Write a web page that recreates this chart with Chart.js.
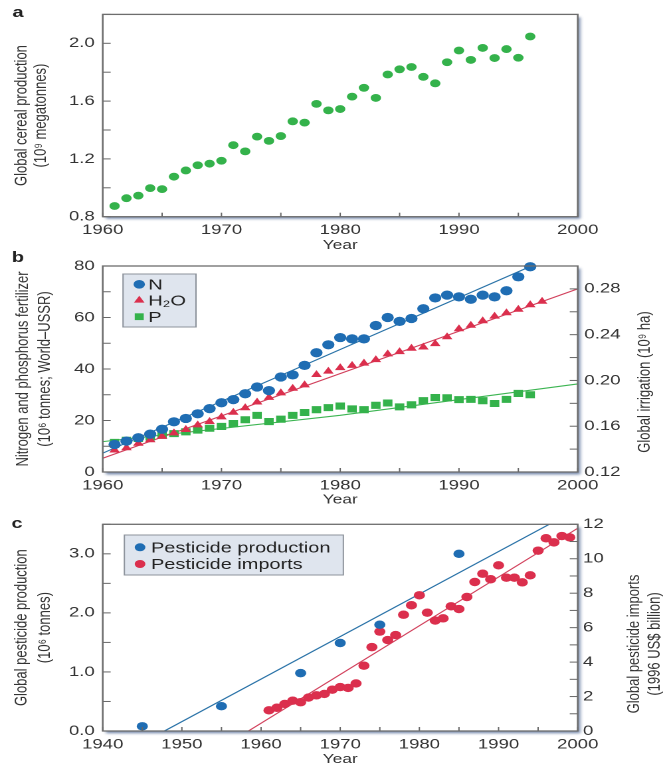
<!DOCTYPE html>
<html>
<head>
<meta charset="utf-8">
<script src="https://cdn.jsdelivr.net/npm/chart.js@4/dist/chart.umd.min.js"></script>
<style>
body{margin:0;background:#fff;width:667px;height:766px;position:relative;overflow:hidden}
canvas{position:absolute;left:0}
</style>
</head>
<body>
<canvas id="chartA" width="502" height="256" style="top:0;width:667px;height:256px"></canvas>
<canvas id="chartB" width="502" height="260" style="top:250px;width:667px;height:260px"></canvas>
<canvas id="chartC" width="502" height="261" style="top:505px;width:667px;height:261px"></canvas>
<script>
// panel a - cereal production
const cerealYears=[1961,1962,1963,1964,1965,1966,1967,1968,1969,1970,1971,1972,1973,1974,1975,1976,1977,1978,1979,1980,1981,1982,1983,1984,1985,1986,1987,1988,1989,1990,1991,1992,1993,1994,1995,1996];
const cerealProd=[0.874,0.928,0.946,0.998,0.991,1.077,1.12,1.156,1.167,1.187,1.295,1.252,1.354,1.325,1.358,1.46,1.451,1.581,1.536,1.545,1.631,1.692,1.622,1.784,1.82,1.836,1.768,1.723,1.869,1.95,1.885,1.968,1.898,1.96,1.9,2.047];

// panel b - fertilizer and irrigation
const fertYears=[1961,1962,1963,1964,1965,1966,1967,1968,1969,1970,1971,1972,1973,1974,1975,1976,1977,1978,1979,1980,1981,1982,1983,1984,1985,1986,1987,1988,1989,1990,1991,1992,1993,1994,1995,1996];
const nitrogen=[10.7,12.0,13.3,14.7,16.6,19.5,20.8,22.6,24.6,26.9,28.1,30.4,33.0,31.6,36.9,37.7,41.4,46.3,49.4,52.2,51.7,51.7,56.9,60.0,58.5,59.6,63.4,67.6,68.7,68.0,67.1,68.7,68.0,70.4,75.8,79.7];
const phosphorus=[11.5,12.3,13.0,13.6,14.3,14.9,15.6,16.3,17.0,17.7,18.8,20.3,22.0,19.6,20.5,22.0,23.1,24.2,25.0,25.6,24.5,24.2,25.9,26.8,25.3,26.1,27.7,28.9,28.8,28.1,28.2,27.7,26.6,28.2,30.5,30.0];
const irrYears=[1961,1962,1963,1964,1965,1966,1967,1968,1969,1970,1971,1972,1973,1974,1975,1976,1977,1978,1979,1980,1981,1982,1983,1984,1985,1986,1987,1988,1989,1990,1991,1992,1993,1994,1995,1996,1997];
const irrigation=[0.139,0.141,0.145,0.148,0.151,0.154,0.157,0.161,0.164,0.168,0.172,0.176,0.181,0.185,0.189,0.193,0.196,0.205,0.208,0.211,0.213,0.215,0.218,0.223,0.225,0.228,0.229,0.232,0.238,0.245,0.248,0.252,0.256,0.259,0.262,0.266,0.269];
const nTrendYears=[1960,1996.1], nTrend=[7.3,80];
const irrTrendYears=[1960,2000], irrTrend=[0.132,0.280];
const pTrendYears=[1960,1980,2000], pTrend=[11.8,22.0,34.2];

// panel c - pesticides
const prodYears=[1945,1955,1965,1970,1975,1985];
const pestProd=[0.08,0.42,0.98,1.49,1.80,3.0];
const importYears=[1961,1962,1963,1964,1965,1966,1967,1968,1969,1970,1971,1972,1973,1974,1975,1976,1977,1978,1979,1980,1981,1982,1983,1984,1985,1986,1987,1988,1989,1990,1991,1992,1993,1994,1995,1996,1997,1998,1999];
const pestImports=[1.2,1.35,1.57,1.76,1.67,1.94,2.07,2.15,2.4,2.55,2.5,2.76,3.79,4.87,5.77,5.28,5.57,6.75,7.3,7.88,6.87,6.41,6.54,7.24,7.08,7.78,8.65,9.13,8.81,9.62,8.9,8.9,8.63,9.04,10.47,11.19,10.95,11.32,11.24];
const prodTrendYears=[1947.8,1996.4], prodTrend=[0,3.5];
const impTrendYears=[1958.4,2000], impTrend=[0,11.77];

const GREEN="#34b24b", BLUE="#1f6db3", RED="#db2f4d";
const BLUE_LINE="#2a73a8", RED_LINE="#d2405c", GREEN_LINE="#3cb552";

Chart.defaults.font.family='"Liberation Sans", Arial, sans-serif';
Chart.defaults.color="#333";

function pts(xs,ys){return xs.map((x,i)=>({x:x,y:ys[i]}));}

function xAxis(min,max,height,titlePad){
  return {
    type:"linear",position:"bottom",min:min,max:max,
    grid:{display:false,drawTicks:false},border:{display:false},
    ticks:{stepSize:5,autoSkip:false,maxRotation:0,padding:5,font:{size:14},color:"#333",
      callback:v=>v%10===0?String(v):""},
    title:{display:true,text:"Year",font:{size:13,lineHeight:1},padding:{top:0,bottom:titlePad},color:"#333"},
    afterFit(s){s.height=height;}
  };
}

function yAxis(pos,min,max,step,labelFn,width,tickPad,title,lh,tpad){
  return {
    type:"linear",position:pos,min:min,max:max,
    grid:{display:false,drawTicks:false},border:{display:false},
    ticks:{stepSize:step,autoSkip:false,padding:tickPad,font:{size:14},color:"#333",callback:labelFn},
    title:title?{display:true,text:title,font:{size:13,lineHeight:lh/13},padding:{top:tpad,bottom:0},color:"#333"}:{display:false},
    afterFit(s){s.width=width;}
  };
}

function vText(ctx,lines,x,y,lh){
  ctx.save();
  ctx.translate(x,y);
  ctx.rotate(-Math.PI/2);
  lines.forEach((l,i)=>ctx.fillText(l,0,i*lh));
  ctx.restore();
}

const figurePlugin={
  id:"figure",
  beforeDraw(chart,args,opts){
    const ctx=chart.ctx,a=chart.chartArea;
    ctx.save();
    ctx.shadowColor="rgba(75,100,145,0.75)";
    ctx.shadowBlur=5;
    ctx.shadowOffsetX=4;
    ctx.shadowOffsetY=5;
    ctx.fillStyle="#fff";
    ctx.fillRect(a.left,a.top,a.right-a.left,a.bottom-a.top);
    ctx.restore();
  },
  afterDraw(chart,args,opts){
    const ctx=chart.ctx,a=chart.chartArea;
    ctx.save();
    // inward tick marks
    ctx.strokeStyle="#666";ctx.lineWidth=1;
    Object.values(chart.scales).forEach(sc=>{
      sc.ticks.forEach(t=>{
        const p=sc.getPixelForValue(t.value);
        ctx.beginPath();
        if(sc.axis==="x"){ctx.moveTo(p,a.bottom);ctx.lineTo(p,a.bottom-4);}
        else if(sc.position==="left"){ctx.moveTo(a.left,p);ctx.lineTo(a.left+6,p);}
        else{ctx.moveTo(a.right,p);ctx.lineTo(a.right-6,p);}
        ctx.stroke();
      });
    });
    ctx.strokeStyle="#6d6d6d";ctx.lineWidth=1.3;
    ctx.strokeRect(a.left,a.top,a.right-a.left,a.bottom-a.top);
    // panel letter
    ctx.fillStyle="#222";
    ctx.font='bold 15px "Liberation Sans", Arial, sans-serif';
    ctx.textAlign="center";ctx.textBaseline="middle";
    ctx.fillText(opts.letter,opts.letterX,opts.letterY);
    // right axis title
    if(opts.rightTitle){
      ctx.fillStyle="#333";
      ctx.font='13px "Liberation Sans", Arial, sans-serif';
      vText(ctx,opts.rightTitle,opts.rightX,opts.rightY,opts.rightLh);
    }
    // legend box
    if(opts.legend){
      const L=opts.legend;
      ctx.fillStyle="#dfe5ee";
      ctx.fillRect(L.box[0],L.box[1],L.box[2],L.box[3]);
      ctx.strokeStyle="#8d939c";ctx.lineWidth=1;
      ctx.strokeRect(L.box[0],L.box[1],L.box[2],L.box[3]);
      ctx.font='15px "Liberation Sans", Arial, sans-serif';
      ctx.textAlign="left";
      L.items.forEach(it=>{
        const ds=chart.data.datasets[it.ds];
        ctx.fillStyle=ds.pointBackgroundColor;
        Chart.helpers.drawPoint(ctx,{pointStyle:ds.pointStyle,radius:it.r,rotation:0,borderWidth:0},L.markerX,it.y);
        ctx.fillStyle="#222";
        ctx.fillText(ds.label,L.textX,it.y+1);
      });
    }
    ctx.restore();
  }
};

function dots(label,data,style,color,r,axis){
  return {label:label,data:data,pointStyle:style,pointRadius:r,pointBackgroundColor:color,
    pointBorderWidth:0,showLine:false,clip:8,order:0,yAxisID:axis||"y"};
}
function trend(label,data,color,axis){
  return {label:label,data:data,showLine:true,pointRadius:0,borderColor:color,borderWidth:1.1,
    order:1,yAxisID:axis||"y"};
}
const base={responsive:false,devicePixelRatio:2,animation:false,events:[]};

new Chart(document.getElementById("chartA"),{
  type:"scatter",
  data:{datasets:[dots("Cereal",pts(cerealYears,cerealProd),"circle",GREEN,3.9)]},
  options:Object.assign({},base,{
    layout:{padding:{left:0,right:67.2,top:9.3,bottom:0}},
    plugins:{legend:{display:false},tooltip:{enabled:false},
      figure:{letter:"a",letterX:13.5,letterY:13}},
    scales:{
      x:xAxis(1960,2000,39.3,4.2),
      y:yAxis("left",0.8,2.2,0.2,v=>Math.round(v*10)%4===0?v.toFixed(1):"",77.3,6,
        ["Global cereal production","(10\u2079 megatonnes)"],14.3,9.5)
    }
  }),
  plugins:[figurePlugin]
});

new Chart(document.getElementById("chartB"),{
  type:"scatter",
  data:{datasets:[
    dots("N",pts(fertYears,nitrogen),"circle",BLUE,4.6),
    dots("H\u2082O",pts(irrYears,irrigation),"triangle",RED,4.6,"y2"),
    dots("P",pts(fertYears,phosphorus),"rect",GREEN,5),
    trend("N trend",pts(nTrendYears,nTrend),BLUE_LINE),
    trend("H2O trend",pts(irrTrendYears,irrTrend),RED_LINE,"y2"),
    trend("P trend",pts(pTrendYears,pTrend),GREEN_LINE)
  ]},
  options:Object.assign({},base,{
    layout:{padding:{left:0,right:0,top:16,bottom:0}},
    plugins:{legend:{display:false},tooltip:{enabled:false},
      figure:{letter:"b",letterX:13.5,letterY:8,
        rightTitle:["Global irrigation (10\u2079 ha)"],rightX:485.4,rightY:132,rightLh:16,
        legend:{box:[92.6,24,54.9,53],markerX:104.8,textX:111.6,
          items:[{ds:0,y:34.3,r:4.3},{ds:1,y:50.3,r:4.6},{ds:2,y:66.7,r:4.8}]}}},
    scales:{
      x:xAxis(1960,2000,38,3.5),
      y:yAxis("left",0,80,10,v=>v%20===0?String(v):"",77.3,6,
        ["Nitrogen and phosphorus fertilizer","(10\u2076 tonnes; World\u2013USSR)"],16.6,9),
      y2:yAxis("right",0.12,0.30,0.02,v=>Math.round(v*100)%4===0?v.toFixed(2):"",67.2,5)
    }
  }),
  plugins:[figurePlugin]
});

new Chart(document.getElementById("chartC"),{
  type:"scatter",
  data:{datasets:[
    dots("Pesticide production",pts(prodYears,pestProd),"circle",BLUE,4.2),
    dots("Pesticide imports",pts(importYears,pestImports),"circle",RED,4.2,"y2"),
    trend("Production trend",pts(prodTrendYears,prodTrend),BLUE_LINE),
    trend("Imports trend",pts(impTrendYears,impTrend),RED_LINE,"y2")
  ]},
  options:Object.assign({},base,{
    layout:{padding:{left:0,right:0,top:19.3,bottom:0}},
    plugins:{legend:{display:false},tooltip:{enabled:false},
      figure:{letter:"c",letterX:12.8,letterY:19,
        rightTitle:["Global pesticide imports","(1996 US$ billion)"],rightX:477.2,rightY:139,rightLh:15.8,
        legend:{box:[93.6,30,164.8,40],markerX:105.4,textX:113.6,
          items:[{ds:0,y:42.3,r:4},{ds:1,y:59,r:4}]}}},
    scales:{
      x:Object.assign(xAxis(1940,2000,35,0),{}),
      y:yAxis("left",0,3.5,0.5,v=>Number.isInteger(v)?v.toFixed(1):"",77.3,6,
        ["Global pesticide production","(10\u2076 tonnes)"],17.3,8),
      y2:yAxis("right",0,12,1,v=>v%2===0?String(v):"",67.2,4)
    }
  }),
  plugins:[figurePlugin]
});
</script>
</body>
</html>
